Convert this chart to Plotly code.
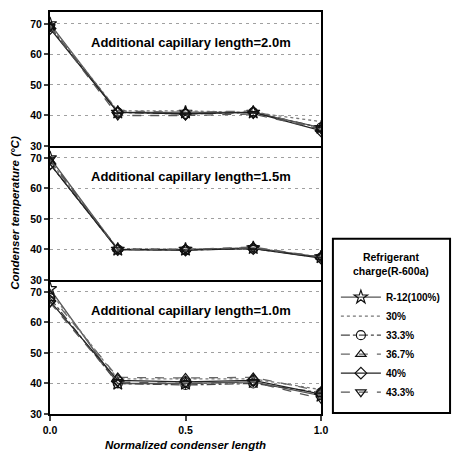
import plotly.graph_objects as go
from plotly.subplots import make_subplots

x_vals = [0.0, 0.25, 0.5, 0.75, 1.0]
series_names = ["R-12(100%)", "30%", "33.3%", "36.7%", "40%", "43.3%"]
panel_titles = ["Additional capillary length=2.0m",
                "Additional capillary length=1.5m",
                "Additional capillary length=1.0m"]

# panel 1: capillary 2.0 m
p20_r12 = [70, 41, 41, 41, 36]
p20_30 = [69.5, 41.5, 41.5, 41, 38]
p20_333 = [69, 41, 40.5, 41, 36]
p20_367 = [69, 41.5, 41, 41.5, 35.5]
p20_40 = [68.5, 41, 40.5, 41, 35]
p20_433 = [69, 40, 40, 40.5, 35.5]

# panel 2: capillary 1.5 m
p15_r12 = [70, 40, 40, 40.5, 37.5]
p15_30 = [69, 40.3, 40, 40.5, 37.5]
p15_333 = [68, 40, 39.8, 40.3, 37.3]
p15_367 = [69, 40.2, 40, 40.8, 37.5]
p15_40 = [68, 40, 39.8, 40.3, 37.2]
p15_433 = [69.5, 40, 40, 40.5, 37.5]

# panel 3: capillary 1.0 m
p10_r12 = [71, 40, 40, 40.5, 36]
p10_30 = [70, 41.5, 41.5, 41.5, 38]
p10_333 = [68, 40, 39.5, 40, 37]
p10_367 = [69, 42, 41.8, 42, 37.5]
p10_40 = [67, 41, 40.5, 41, 36.5]
p10_433 = [66.5, 40.5, 40, 40.5, 35]

panels = [
    [p20_r12, p20_30, p20_333, p20_367, p20_40, p20_433],
    [p15_r12, p15_30, p15_333, p15_367, p15_40, p15_433],
    [p10_r12, p10_30, p10_333, p10_367, p10_40, p10_433],
]

y_ticks = [30, 40, 50, 60, 70]
x_ticks = [0.0, 0.5, 1.0]
x_ticklabels = ["0.0", "0.5", "1.0"]

styles = [
    dict(color="#555555", dash="solid", symbol="star-open", msize=10),
    dict(color="#777777", dash="dot", symbol=None, msize=0),
    dict(color="#444444", dash="dashdot", symbol="circle-open", msize=9),
    dict(color="#666666", dash="dash", symbol="triangle-up-open", msize=9),
    dict(color="#222222", dash="solid", symbol="diamond-open", msize=9),
    dict(color="#555555", dash="dash", symbol="triangle-down-open", msize=9),
]

FONT = "Liberation Sans, Arial, sans-serif"

fig = make_subplots(rows=3, cols=1, shared_xaxes=True, vertical_spacing=0)

for r, pdata in enumerate(panels, start=1):
    for i, (name, ys) in enumerate(zip(series_names, pdata)):
        st = styles[i]
        mode = "lines+markers" if st["symbol"] else "lines"
        marker = dict(symbol=st["symbol"], size=st["msize"], color="#111111",
                      line=dict(width=1.2, color="#111111")) if st["symbol"] else None
        fig.add_trace(go.Scatter(
            x=x_vals, y=ys, name=name, mode=mode,
            line=dict(color=st["color"], dash=st["dash"], width=1.3),
            marker=marker, showlegend=(r == 1),
        ), row=r, col=1)
    fig.add_annotation(text=panel_titles[r - 1], xref="x domain",
                       yref="y domain" if r == 1 else f"y{r} domain",
                       x=0.52, y=0.84, showarrow=False,
                       font=dict(family=FONT, size=13, color="black", weight="bold"))

for r in range(1, 4):
    fig.update_yaxes(range=[30, 73.9], tickvals=y_ticks, ticks="outside", ticklen=4, tickwidth=2,
                     showline=True, linecolor="black", linewidth=2, mirror=True,
                     showgrid=True, gridcolor="#a0a0a0", griddash="3px,4px", gridwidth=1,
                     zeroline=False, tickfont=dict(family=FONT, size=10.5, color="black", weight="bold"),
                     row=r, col=1)
    fig.update_xaxes(range=[0, 1], tickvals=x_ticks, ticktext=x_ticklabels,
                     ticks="outside" if r == 3 else "", ticklen=5, tickwidth=2,
                     showline=True, linecolor="black", linewidth=2, mirror=(r == 1),
                     showgrid=False, zeroline=False, showticklabels=(r == 3),
                     tickfont=dict(family=FONT, size=10.5, color="black", weight="bold"),
                     row=r, col=1)

fig.add_annotation(text="Condenser temperature (°C)", xref="paper", yref="paper",
                   x=-0.13, y=0.5, xanchor="center", yanchor="middle", textangle=-90,
                   showarrow=False,
                   font=dict(family=FONT, size=11.5, color="black", weight="bold", style="italic"))
fig.add_annotation(text="Normalized condenser length", xref="paper", yref="paper",
                   x=0.5, y=-0.077, xanchor="center", yanchor="middle", showarrow=False,
                   font=dict(family=FONT, size=11.5, color="black", weight="bold", style="italic"))

# legend box and title (box spans 335..454 px horizontally, 238..413 px vertically)
fig.add_shape(type="rect", xref="paper", yref="paper",
              x0=(335 - 50) / 273, x1=(453 - 50) / 273,
              y0=(414 - 413) / 404, y1=(414 - 238) / 404,
              line=dict(color="black", width=2), fillcolor="rgba(0,0,0,0)")
fig.add_annotation(text="Refrigerant<br>charge(R-600a)", xref="paper", yref="paper",
                   x=(394 - 50) / 273, y=(414 - 263) / 404, xanchor="center", yanchor="middle",
                   showarrow=False, align="center",
                   font=dict(family=FONT, size=10.5, color="black", weight="bold"))

fig.update_layout(
    width=455, height=452,
    margin=dict(l=50, r=132, t=10, b=38),
    paper_bgcolor="white", plot_bgcolor="white",
    font=dict(family=FONT, size=10, color="black"),
    legend=dict(x=(338 - 50) / 273, y=(414 - 282) / 404, xanchor="left", yanchor="top",
                borderwidth=0, bgcolor="rgba(0,0,0,0)",
                font=dict(family=FONT, size=10, color="black", weight="bold"),
                itemwidth=40, tracegroupgap=0),
)

fig.write_html("out.html", config={"displayModeBar": False},
               post_script="document.body.style.margin='0';")
